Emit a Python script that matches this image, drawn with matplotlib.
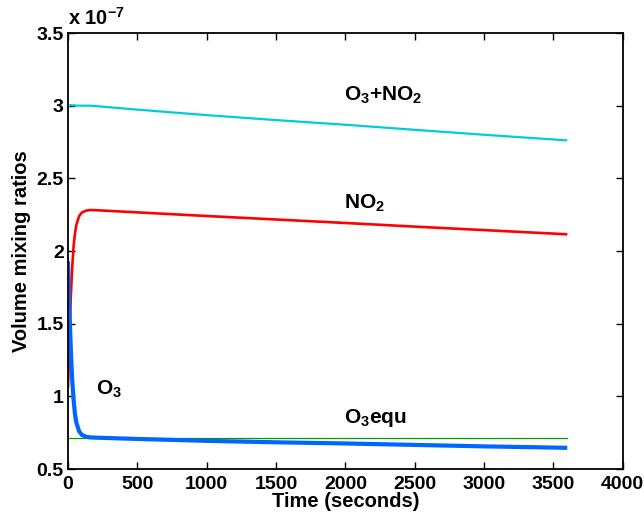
import numpy as np
import matplotlib
matplotlib.use("Agg")
import matplotlib.pyplot as plt
from matplotlib.ticker import FuncFormatter

plt.rcParams['font.family'] = ['Liberation Sans', 'DejaVu Sans']
plt.rcParams['mathtext.fontset'] = 'custom'
plt.rcParams['mathtext.rm'] = 'Liberation Sans:bold'
plt.rcParams['mathtext.it'] = 'Liberation Sans:bold'
plt.rcParams['mathtext.bf'] = 'Liberation Sans:bold'

# Data (values in units of 1e-7)
time = [0, 10, 20, 30, 40, 50, 60, 80, 100, 130, 160, 200, 500, 1000, 1500, 2000, 2500, 3000, 3600]
o3 = [1.93, 1.60, 1.33, 1.12, 0.98, 0.88, 0.82, 0.76, 0.735, 0.722, 0.718, 0.716,
      0.707, 0.694, 0.684, 0.676, 0.666, 0.656, 0.646]
no2 = [1.06, 1.40, 1.68, 1.88, 2.03, 2.12, 2.18, 2.24, 2.265, 2.278, 2.282, 2.281,
       2.266, 2.241, 2.217, 2.193, 2.168, 2.144, 2.115]
o3_no2 = [2.99, 3.00, 3.005, 3.003, 3.003, 3.002, 3.001, 3.000, 3.000, 3.000, 3.000, 2.997,
          2.973, 2.935, 2.901, 2.869, 2.834, 2.800, 2.761]
o3equ_time = [0, 3600]
o3equ = [0.711, 0.711]
scale = 1e-7

fig = plt.figure(figsize=(6.44, 5.2), dpi=100)
ax = fig.add_axes([0.1056, 0.098, 0.8614, 0.8385])

ax.plot(time, o3_no2, color='#00CED6', lw=1.6, solid_capstyle='butt')
ax.plot(time, no2, color='#FF0000', lw=1.9, solid_capstyle='butt')
ax.plot(o3equ_time, o3equ, color='#00A000', lw=0.9)
ax.plot(time, o3, color='#0066FF', lw=3.0, solid_capstyle='butt')

ax.set_xlim(0, 4000)
ax.set_ylim(0.5, 3.5)
ax.set_xticks(np.arange(0, 4001, 500))
ax.set_yticks(np.arange(0.5, 3.51, 0.5))
ax.yaxis.set_major_formatter(FuncFormatter(lambda v, p: '%g' % v))
ax.tick_params(direction='in', length=5, width=1, top=True, right=True,
               labelsize=14)
ax.tick_params(axis='x', pad=5)
ax.tick_params(axis='y', pad=3)
for lab in ax.get_xticklabels() + ax.get_yticklabels():
    lab.set_fontweight('bold')
for s in ax.spines.values():
    s.set_linewidth(1.3)

ax.set_xlabel('Time (seconds)', fontsize=14.5, fontweight='bold', labelpad=-1)
ax.set_ylabel('Volume mixing ratios', fontsize=14.5, fontweight='bold', labelpad=4)

ax.text(0.0, 1.01, r'x 10$^{-7}$', transform=ax.transAxes, fontsize=14.5,
        fontweight='bold', ha='left', va='bottom')

kw = dict(fontsize=15, fontweight='bold', va='center', ha='left')
ax.text(1990, 3.07, r'O$_3$+NO$_2$', **kw)
ax.text(1990, 2.33, r'NO$_2$', **kw)
ax.text(200, 1.05, r'O$_3$', **kw)
ax.text(1990, 0.85, r'O$_3$equ', **kw)

fig.savefig('out.png', dpi=100)
